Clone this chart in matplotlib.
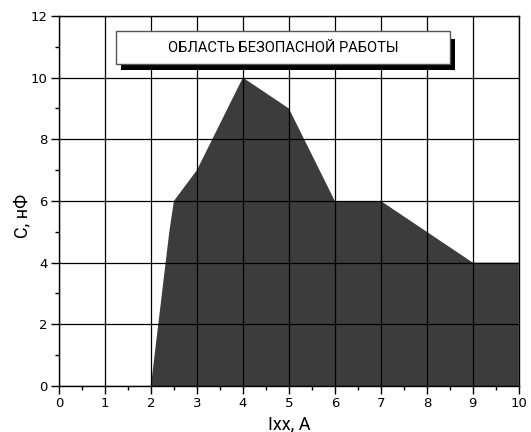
import matplotlib.pyplot as plt
from matplotlib.patches import Rectangle
from matplotlib.ticker import MultipleLocator

# ------------------------
# Data (safe operating area boundary)
# ------------------------
current_a = [2, 2.4, 2.5, 3, 4, 5, 6, 7, 9, 10, 10]
cap_nf = [0, 5, 6, 7, 10, 9, 6, 6, 4, 4, 0]
title_text = "ОБЛАСТЬ БЕЗОПАСНОЙ РАБОТЫ"

narrow = ["Roboto", "DejaVu Sans"]

fig = plt.figure(figsize=(5.31, 4.32), dpi=100)
ax = fig.add_axes([0.111, 0.1065, 0.866, 0.8565])

ax.fill(current_a, cap_nf, color="#3c3c3c", lw=0, zorder=1)

ax.set_xlim(0, 10)
ax.set_ylim(0, 12)
ax.xaxis.set_major_locator(MultipleLocator(1))
ax.xaxis.set_minor_locator(MultipleLocator(0.5))
ax.yaxis.set_major_locator(MultipleLocator(2))
ax.yaxis.set_minor_locator(MultipleLocator(1))
ax.tick_params(which="major", length=6, width=1, labelsize=9.5, pad=2)
ax.tick_params(which="minor", length=3, width=1)
ax.grid(True, which="major", color="black", lw=0.9, zorder=2)
ax.set_axisbelow(False)
for s in ax.spines.values():
    s.set_linewidth(1)

# title box with shadow
ax.add_patch(Rectangle((1.35, 10.25), 7.26, 1.0, color="black", lw=0, zorder=3))
ax.add_patch(Rectangle((1.24, 10.44), 7.265, 1.07, facecolor="white",
                       edgecolor="#555555", lw=1, zorder=4))
ax.text(4.87, 10.975, title_text, ha="center", va="center", fontsize=10.6,
        family=narrow, zorder=5)

ax.set_xlabel("Ixx, A", fontsize=13, family=narrow)
ax.set_ylabel("C, нФ", fontsize=13, family=narrow)
ax.xaxis.label.set_va("center")
ax.yaxis.label.set_va("center")
ax.xaxis.set_label_coords(0.5, -0.103)
ax.yaxis.set_label_coords(-0.08, 0.46)

plt.savefig("out.png", dpi=100)
